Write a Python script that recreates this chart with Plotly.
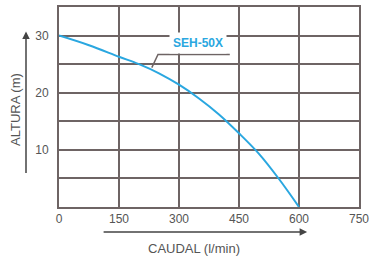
import plotly.graph_objects as go

caudal = [0, 75, 150, 200, 250, 300, 350, 400, 450, 500, 550, 600]
altura = [30, 28.3, 26.3, 25, 23.4, 21.4, 19, 16.2, 12.9, 9.3, 4.9, 0]
series_name = "SEH-50X"
x_ticks = [0, 150, 300, 450, 600, 750]
y_ticks = [0, 5, 10, 15, 20, 25, 30, 35]
y_ticktext = ["", "", "10", "", "20", "", "30", ""]

grid = "#6e6464"
txt = "#555555"
blue = "#2aa7e0"

fig = go.Figure()
fig.add_trace(go.Scatter(x=caudal, y=altura, mode="lines", line=dict(color=blue, width=2, shape="spline", smoothing=1.0),
                         name=series_name, showlegend=False, hoverinfo="skip"))

fig.update_layout(
    width=371, height=256,
    margin=dict(l=59, r=12, t=7, b=49),
    paper_bgcolor="white", plot_bgcolor="white",
    font=dict(family="Liberation Sans, Arial, sans-serif", size=12, color=txt),
    xaxis=dict(range=[0, 750], tickvals=x_ticks, showgrid=True, gridcolor=grid, gridwidth=2,
               showline=True, linecolor=grid, linewidth=2, mirror=True, zeroline=False, automargin=False,
               ticks="", ticklen=0, tickfont=dict(size=12, color=txt)),
    yaxis=dict(range=[0, 35], tickvals=y_ticks, ticktext=y_ticktext, showgrid=True, gridcolor=grid, gridwidth=2,
               showline=True, linecolor=grid, linewidth=2, mirror=True, zeroline=False, automargin=False,
               ticks="", ticklen=0, ticklabelstandoff=6, tickfont=dict(size=12, color=txt)),
)

# leader line for the series label
fig.add_shape(type="path", xref="x", yref="y",
              path="M 232,24.4 L 247.5,26.7 L 427,26.7",
              line=dict(color=grid, width=1.5))
fig.add_annotation(x=347, y=28.7, xref="x", yref="y", text="<b>" + series_name + "</b>", showarrow=False,
                   font=dict(size=12, color=blue), bgcolor="white", borderpad=3)

# axis arrows
fig.add_annotation(x=-0.11, y=0.877, xref="paper", yref="paper", ax=0, ay=143, axref="pixel", ayref="pixel",
                   text="", showarrow=True, arrowhead=2, arrowsize=1, arrowwidth=1.5, arrowcolor="#444444")
fig.add_annotation(x=0.827, y=-0.125, xref="paper", yref="paper", ax=-205, ay=0, axref="pixel", ayref="pixel",
                   text="", showarrow=True, arrowhead=2, arrowsize=1, arrowwidth=1.5, arrowcolor="#444444")

# axis titles
fig.add_annotation(x=-0.147, y=0.49, xref="paper", yref="paper", xanchor="center", yanchor="middle",
                   text="ALTURA (m)", textangle=-90,
                   showarrow=False, font=dict(size=13, color=txt))
fig.add_annotation(x=0.45, y=-0.205, xref="paper", yref="paper", xanchor="center", yanchor="middle",
                   text="CAUDAL (l/min)",
                   showarrow=False, font=dict(size=13, color=txt))

fig.write_html("out.html", config={"displayModeBar": False},
               post_script="document.body.style.margin='0px';document.body.style.overflow='hidden';")
